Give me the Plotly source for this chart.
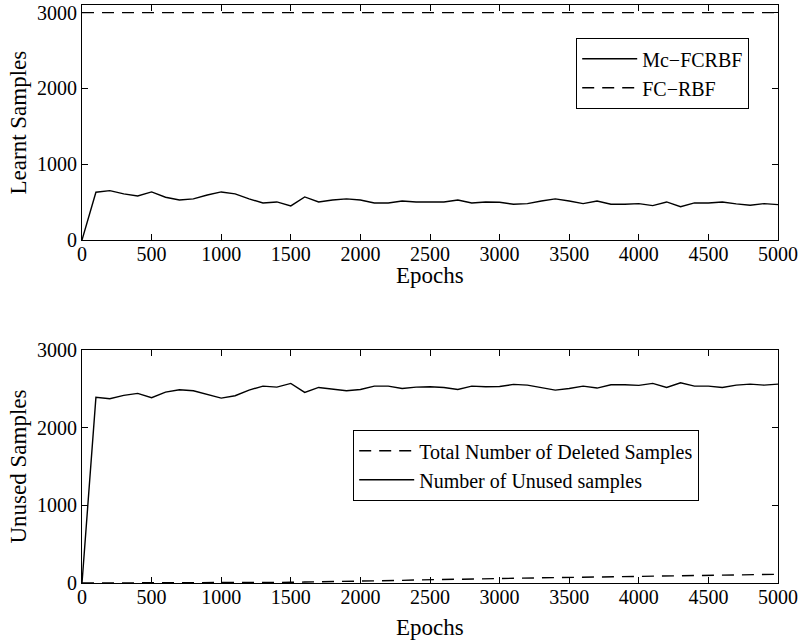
import plotly.graph_objects as go

epochs = list(range(0, 5001, 100))

mc_fcrbf = [0, 630, 651, 608, 581, 634, 564, 528, 542, 594,
            634, 608, 542, 489, 502, 449, 568, 502, 528, 542,
            528, 489, 489, 515, 502, 498, 502, 528, 489, 502,
            498, 471, 480, 515, 542, 515, 480, 515, 471, 471,
            480, 453, 502, 440, 489, 489, 502, 476, 458, 480, 467]
fc_rbf = [3000] * len(epochs)

unused = [0, 2390, 2372, 2416, 2441, 2385, 2458, 2488, 2475, 2424,
          2381, 2411, 2484, 2535, 2522, 2570, 2454, 2518, 2492, 2475,
          2492, 2535, 2535, 2505, 2522, 2527, 2518, 2492, 2535, 2527,
          2531, 2557, 2548, 2514, 2484, 2505, 2535, 2510, 2552, 2552,
          2544, 2570, 2518, 2578, 2535, 2535, 2518, 2548, 2561, 2548, 2561]
deleted = [0, 0, 0, 0, 0, 0, 1, 1, 1, 2,
           2, 3, 4, 5, 7, 9, 12, 14, 17, 20,
           22, 26, 30, 34, 39, 43, 46, 49, 52, 55,
           58, 61, 64, 67, 69, 72, 75, 78, 81, 84,
           87, 89, 91, 93, 95, 97, 100, 103, 106, 109, 112]

x_ticks = list(range(0, 5001, 500))
y_ticks = [0, 1000, 2000, 3000]

FONT = "Liberation Serif"
W, H = 807, 640
DASH = "12px,8px"

fig = go.Figure()
fig.add_trace(go.Scatter(x=epochs, y=mc_fcrbf, mode="lines", name="Mc\u2212FCRBF",
                         line=dict(color="black", width=1.4), xaxis="x", yaxis="y",
                         legend="legend"))
fig.add_trace(go.Scatter(x=epochs, y=fc_rbf, mode="lines", name="FC\u2212RBF",
                         line=dict(color="black", width=1.4, dash=DASH), xaxis="x", yaxis="y",
                         legend="legend"))
fig.add_trace(go.Scatter(x=epochs, y=deleted, mode="lines", name="Total Number of Deleted Samples",
                         line=dict(color="black", width=1.4, dash=DASH), xaxis="x2", yaxis="y2",
                         legend="legend2"))
fig.add_trace(go.Scatter(x=epochs, y=unused, mode="lines", name="Number of Unused samples",
                         line=dict(color="black", width=1.4), xaxis="x2", yaxis="y2",
                         legend="legend2"))

xdom = [82 / W, 778 / W]
top_dom = [1 - 240 / H, 1 - 5 / H]
bot_dom = [1 - 583 / H, 1 - 350 / H]

axis_common = dict(showline=True, linecolor="black", linewidth=1.2, mirror="ticks",
                   ticks="inside", ticklen=6, tickcolor="black", tickwidth=1,
                   showgrid=False, zeroline=False, automargin=False,
                   tickfont=dict(family=FONT, size=20, color="black"))
x_common = dict(axis_common, ticklabelstandoff=-4)

legend_common = dict(xanchor="left", yanchor="top", bgcolor="white",
                     bordercolor="black", borderwidth=1.2, itemwidth=55,
                     font=dict(family=FONT, size=20, color="black"), tracegroupgap=0)

fig.update_layout(
    width=W, height=H, autosize=False,
    margin=dict(l=0, r=0, t=0, b=0, pad=0, autoexpand=False),
    paper_bgcolor="white", plot_bgcolor="white",
    xaxis=dict(domain=xdom, range=[0, 5000], tickvals=x_ticks, anchor="y", **x_common),
    yaxis=dict(domain=top_dom, range=[0, 3100], tickvals=y_ticks, anchor="x", **axis_common),
    xaxis2=dict(domain=xdom, range=[0, 5000], tickvals=x_ticks, anchor="y2", **x_common),
    yaxis2=dict(domain=bot_dom, range=[0, 3000], tickvals=y_ticks, anchor="x2", **axis_common),
    legend=dict(x=576 / W, y=1 - 38 / H, **legend_common),
    legend2=dict(x=353 / W, y=1 - 430 / H, **legend_common),
    showlegend=True,
)

ann_font = dict(family=FONT, size=23, color="black")
fig.add_annotation(text="Epochs", x=0.5 * (xdom[0] + xdom[1]), y=1 - 275 / H, xref="paper", yref="paper",
                   showarrow=False, font=ann_font, xanchor="center", yanchor="middle")
fig.add_annotation(text="Epochs", x=0.5 * (xdom[0] + xdom[1]), y=1 - 627 / H, xref="paper", yref="paper",
                   showarrow=False, font=ann_font, xanchor="center", yanchor="middle")
fig.add_annotation(text="Learnt Samples", x=18 / W, y=1 - 122.5 / H, xref="paper", yref="paper",
                   showarrow=False, font=ann_font, textangle=-90, xanchor="center", yanchor="middle")
fig.add_annotation(text="Unused Samples", x=18 / W, y=1 - 466.5 / H, xref="paper", yref="paper",
                   showarrow=False, font=ann_font, textangle=-90, xanchor="center", yanchor="middle")

fig.write_html("out.html")
